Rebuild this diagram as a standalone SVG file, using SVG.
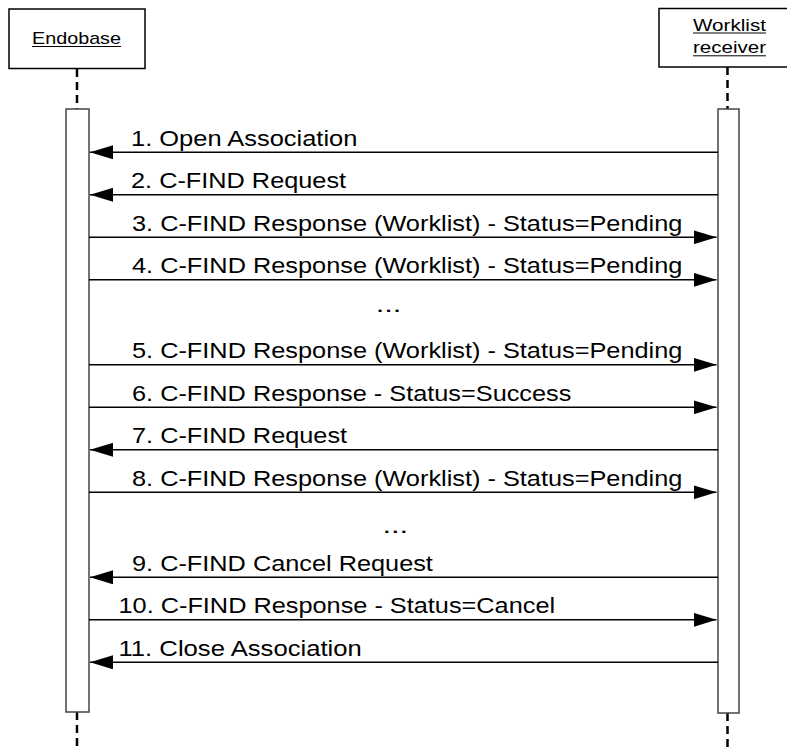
<svg xmlns="http://www.w3.org/2000/svg" width="787" height="751" viewBox="0 0 787 751">
  <style>
    .head { fill: #ffffff; stroke: #000000; stroke-width: 1.5; }
    .lifeline { stroke: #000000; stroke-width: 2.5; stroke-dasharray: 8 5; fill: none; }
    .act { fill: #ffffff; stroke: #444444; stroke-width: 1.5; }
    .msg { stroke: #000000; stroke-width: 1.6; fill: none; }
    .ul { stroke: #000000; stroke-width: 1; }
    .htxt { font-family: "Liberation Sans", Arial, sans-serif; font-size: 17px; fill: #000000; text-anchor: middle; }
    .mtxt { font-family: "Liberation Sans", Arial, sans-serif; font-size: 21.4px; fill: #000000; }
  </style>
  <defs>
    <marker id="arrow" viewBox="0 0 23 14" refX="23" refY="7" markerWidth="23" markerHeight="14" markerUnits="userSpaceOnUse" orient="auto">
      <path d="M0,0 L23,7 L0,14 Z" fill="#000000"/>
    </marker>
  </defs>

  <rect width="787" height="751" fill="#ffffff"/>

  <!-- Endobase participant -->
  <g id="endobase">
    <line class="lifeline" x1="77" y1="69" x2="77" y2="109"/>
    <line class="lifeline" x1="77" y1="712" x2="77" y2="751"/>
    <rect class="head" x="9" y="9" width="136" height="59.5"/>
    <text class="htxt" x="76.5" y="44" textLength="89" lengthAdjust="spacingAndGlyphs">Endobase</text>
    <line class="ul" x1="32" y1="46.5" x2="121" y2="46.5"/>
    <rect class="act" x="66" y="109" width="23" height="603"/>
  </g>

  <!-- Worklist receiver participant -->
  <g id="worklist-receiver">
    <line class="lifeline" x1="727.5" y1="67" x2="727.5" y2="109"/>
    <line class="lifeline" x1="727.5" y1="713" x2="727.5" y2="751"/>
    <rect class="head" x="659" y="8.5" width="140" height="58.5"/>
    <text class="htxt" x="729.5" y="30.5" textLength="73" lengthAdjust="spacingAndGlyphs">Worklist</text>
    <line class="ul" x1="693" y1="33" x2="766" y2="33"/>
    <text class="htxt" x="729.5" y="53.3" textLength="73" lengthAdjust="spacingAndGlyphs">receiver</text>
    <line class="ul" x1="693" y1="55.8" x2="766" y2="55.8"/>
    <rect class="act" x="718" y="109" width="21" height="604"/>
  </g>

  <!-- Messages -->
  <g id="connectors">
    <line class="msg" x1="718" y1="152.3" x2="90" y2="152.3" marker-end="url(#arrow)"/>
    <line class="msg" x1="718" y1="194.8" x2="90" y2="194.8" marker-end="url(#arrow)"/>
    <line class="msg" x1="89" y1="237.3" x2="716.5" y2="237.3" marker-end="url(#arrow)"/>
    <line class="msg" x1="89" y1="279.8" x2="716.5" y2="279.8" marker-end="url(#arrow)"/>
    <line class="msg" x1="89" y1="364.8" x2="716.5" y2="364.8" marker-end="url(#arrow)"/>
    <line class="msg" x1="89" y1="407.3" x2="716.5" y2="407.3" marker-end="url(#arrow)"/>
    <line class="msg" x1="718" y1="449.8" x2="90" y2="449.8" marker-end="url(#arrow)"/>
    <line class="msg" x1="89" y1="492.3" x2="716.5" y2="492.3" marker-end="url(#arrow)"/>
    <line class="msg" x1="718" y1="577.3" x2="90" y2="577.3" marker-end="url(#arrow)"/>
    <line class="msg" x1="89" y1="619.8" x2="716.5" y2="619.8" marker-end="url(#arrow)"/>
    <line class="msg" x1="718" y1="662.3" x2="90" y2="662.3" marker-end="url(#arrow)"/>
  </g>

  <!-- Message labels -->
  <g id="labels">
    <text class="mtxt" x="131" y="145.8" textLength="226.4" lengthAdjust="spacingAndGlyphs">1. Open Association</text>
    <text class="mtxt" x="131" y="188.3" textLength="215.1" lengthAdjust="spacingAndGlyphs">2. C-FIND Request</text>
    <text class="mtxt" x="132" y="230.8" textLength="550.4" lengthAdjust="spacingAndGlyphs">3. C-FIND Response (Worklist) - Status=Pending</text>
    <text class="mtxt" x="132" y="273.3" textLength="550.4" lengthAdjust="spacingAndGlyphs">4. C-FIND Response (Worklist) - Status=Pending</text>
    <text class="mtxt" x="375.7" y="312.3" textLength="25.8" lengthAdjust="spacingAndGlyphs">...</text>
    <text class="mtxt" x="132" y="358.3" textLength="550.4" lengthAdjust="spacingAndGlyphs">5. C-FIND Response (Worklist) - Status=Pending</text>
    <text class="mtxt" x="132" y="400.8" textLength="439.4" lengthAdjust="spacingAndGlyphs">6. C-FIND Response - Status=Success</text>
    <text class="mtxt" x="132" y="443.3" textLength="215.1" lengthAdjust="spacingAndGlyphs">7. C-FIND Request</text>
    <text class="mtxt" x="132" y="485.8" textLength="550.4" lengthAdjust="spacingAndGlyphs">8. C-FIND Response (Worklist) - Status=Pending</text>
    <text class="mtxt" x="382.4" y="533.2" textLength="25.8" lengthAdjust="spacingAndGlyphs">...</text>
    <text class="mtxt" x="132" y="570.8" textLength="300.9" lengthAdjust="spacingAndGlyphs">9. C-FIND Cancel Request</text>
    <text class="mtxt" x="118.5" y="613.3" textLength="436.6" lengthAdjust="spacingAndGlyphs">10. C-FIND Response - Status=Cancel</text>
    <text class="mtxt" x="118.5" y="655.8" textLength="243.3" lengthAdjust="spacingAndGlyphs">11. Close Association</text>
  </g>
</svg>
